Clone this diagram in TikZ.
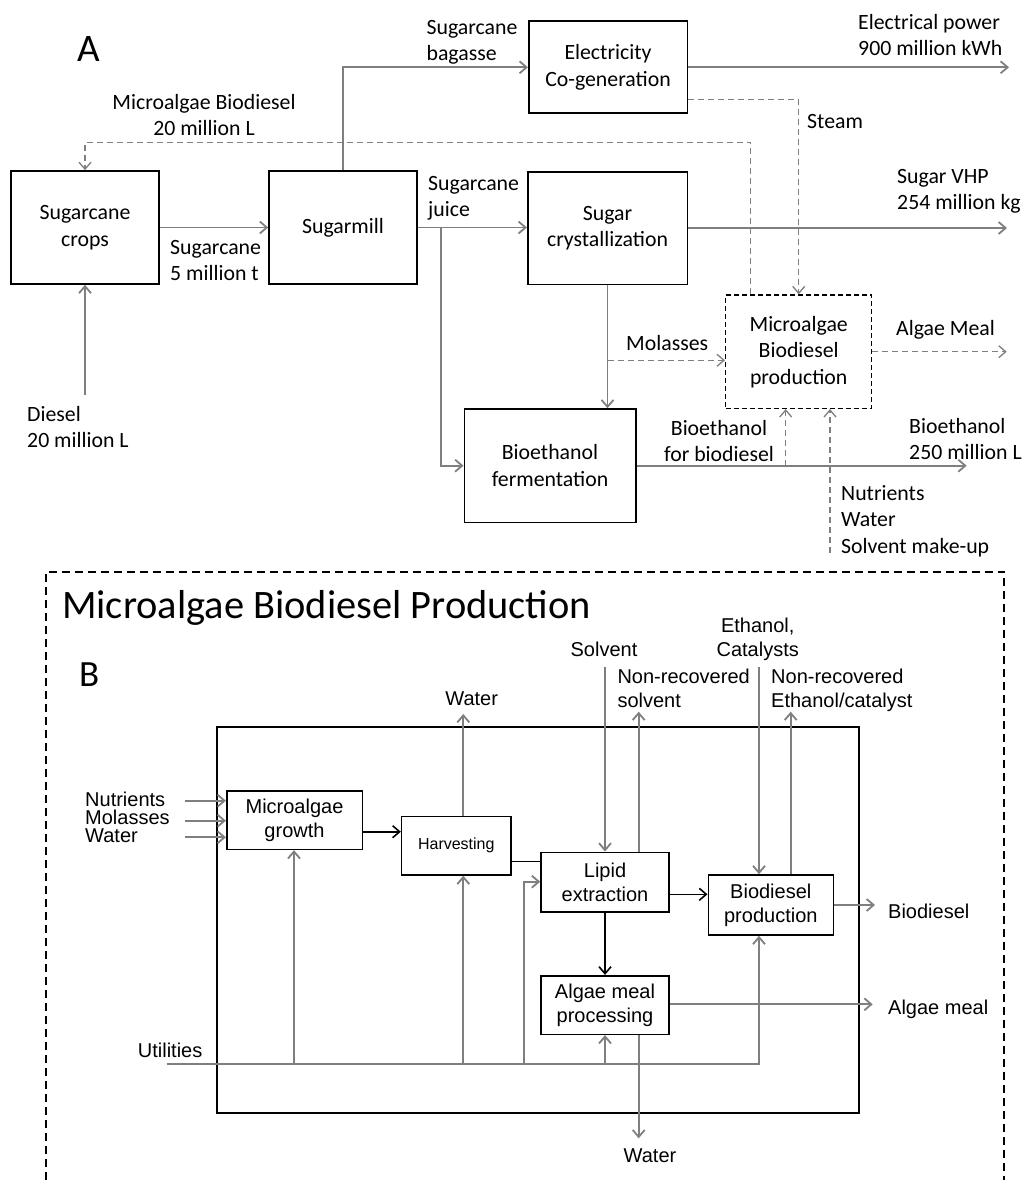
\documentclass[tikz,border=0pt]{standalone}
\usepackage{fontspec}
\setmainfont{Carlito}
\newfontfamily\arialf{Liberation Sans}
\usetikzlibrary{arrows.meta}
\definecolor{lgray}{HTML}{7F7F7F}
\begin{document}
\begin{tikzpicture}[x=1pt,y=-1pt,
  fA/.style={font=\fontsize{21.8}{26.5}\selectfont},
  fB/.style={font=\arialf\fontsize{20}{24}\selectfont},
  boxA/.style={draw=black, line width=1.6pt, inner sep=0pt, align=center, fA},
  boxB/.style={draw=black, line width=1.6pt, inner sep=0pt, align=center, fB},
  lbl/.style={inner sep=0pt, align=left},
  tip/.style={-{Straight Barb[length=7pt,width=12pt]}},
  gline/.style={draw=lgray, line width=1.8pt},
  garrow/.style={gline, tip},
  dgarrow/.style={draw=lgray, line width=1.3pt, dash pattern=on 6pt off 4pt, tip},
  barrow/.style={draw=black, line width=1.6pt, tip},
]
\useasboundingbox[fill=white] (0,0) rectangle (1031,1180);

% ---------------- Part A ----------------
\node[inner sep=0pt, anchor=base west, font=\fontsize{39}{40}\selectfont] (labA) at (77,62) {A};

\node[boxA, minimum width=148pt, minimum height=113pt] (crops) at (85,227.5) {Sugarcane\\crops};
\node[boxA, minimum width=148pt, minimum height=113pt] (mill) at (343,227.5) {Sugarmill};
\node[boxA, minimum width=158.6pt, minimum height=92pt] (cogen) at (608,67.3) {Electricity\\Co-generation};
\node[boxA, minimum width=159.6pt, minimum height=112.6pt] (cryst) at (607.5,228) {Sugar\\crystallization};
\node[boxA, draw=black, line width=1.4pt, dash pattern=on 5pt off 3pt, minimum width=146pt, minimum height=113.3pt] (mbp) at (798.7,351.7) {Microalgae\\Biodiesel\\production};
\node[boxA, minimum width=171.4pt, minimum height=113.3pt] (ferm) at (550,465.7) {Bioethanol\\fermentation};

% free ends
\coordinate (dsl) at (85,395);
\coordinate (elec) at (1009,67.3);
\coordinate (vhp) at (1007,228);
\coordinate (ameal) at (1006.7,351.7);
\coordinate (etoh) at (966.7,465.7);
\coordinate (juicej) at (441,227.5);
\coordinate (molj) at (607.5,360.3);
\coordinate (bfbj) at (785.7,465.7);
\coordinate (nutr) at (830,553);

\draw[garrow] (crops.east) -- (mill.west);
\draw[garrow] (mill.north) |- (cogen.west);
\draw[garrow] (mill.east) -- (mill.east -| cryst.west);
\draw[garrow] (juicej) |- (ferm.west);
\draw[garrow] (dsl) -- (crops.south);
\draw[garrow] (cogen.east) -- (elec);
\draw[garrow] (cryst.east) -- (vhp);
\draw[garrow] (cryst.south) -- (cryst.south |- ferm.north);
\draw[garrow] (ferm.east) -- (etoh);
\draw[dgarrow] (cogen.east |- 0,99.3) -| (mbp.north);
\draw[dgarrow] (mbp.north -| 750.7,0) |- (crops.north |- 0,142.3) -- (crops.north);
\draw[dgarrow] (molj) -- (molj -| mbp.west);
\draw[dgarrow] (mbp.east) -- (ameal);
\draw[dgarrow] (bfbj) -- (bfbj |- mbp.south);
\draw[dgarrow] (nutr) -- (nutr |- mbp.south);

\node[lbl, fA, anchor=north] (lbagasse) at (472,20) {Sugarcane\\bagasse};
\node[lbl, fA, anchor=north west] (lcane) at (170,240) {Sugarcane\\5 million t};
\node[lbl, fA, anchor=north west] (ljuice) at (428,176) {Sugarcane\\juice};
\node[lbl, fA, anchor=north west] (ldiesel) at (27,406) {Diesel\\20 million L};
\node[lbl, fA, align=center, anchor=north] (lmbd) at (204,94) {Microalgae Biodiesel\\20 million L};
\node[lbl, fA, anchor=north west] (lelec) at (858,14) {Electrical power\\900 million kWh};
\node[lbl, fA, anchor=north west] (lsteam) at (807,114) {Steam};
\node[lbl, fA, anchor=north west] (lvhp) at (897,169) {Sugar VHP\\254 million kg};
\node[lbl, fA, anchor=north west] (lmol) at (626,335) {Molasses};
\node[lbl, fA, anchor=north west] (lameal) at (896,320) {Algae Meal};
\node[lbl, fA, anchor=north west] (letoh) at (909,418) {Bioethanol\\250 million L};
\node[lbl, fA, align=center, anchor=north] (lbfb) at (719,420) {Bioethanol\\for biodiesel};
\node[lbl, fA, anchor=north west] (lnutr) at (841,485) {Nutrients\\Water\\Solvent make-up};

% ---------------- Part B ----------------
\draw[black, line width=2pt, dash pattern=on 8pt off 5pt] (46,1180) -- (46,571.7) -- (1004,571.7) -- (1004,1180);
\node[inner sep=0pt, anchor=base west, font=\fontsize{40.4}{42}\selectfont] (title) at (62,618) {Microalgae Biodiesel Production};
\node[inner sep=0pt, anchor=base west, font=\fontsize{37}{40}\selectfont] (labB) at (79,686) {B};

\draw[black, line width=1.6pt] (217,727) rectangle (859,1113);

\node[boxB, minimum width=135.6pt, minimum height=58.3pt] (growth) at (294.5,820.2) {Microalgae\\growth};
\node[boxB, font=\arialf\fontsize{16}{20}\selectfont, minimum width=109.3pt, minimum height=58.3pt] (harv) at (456.3,845.8) {Harvesting};
\node[boxB, minimum width=128pt, minimum height=59.4pt] (lipid) at (605,882) {Lipid\\extraction};
\node[boxB, minimum width=125pt, minimum height=60pt] (biod) at (770.8,905) {Biodiesel\\production};
\node[boxB, minimum width=128pt, minimum height=58.6pt] (meal) at (605,1005) {Algae meal\\processing};

% free ends
\coordinate (inN) at (185,800.7);
\coordinate (inM) at (185,820.7);
\coordinate (inW) at (185,837.3);
\coordinate (wtop) at (463.3,714);
\coordinate (util) at (166.7,1063.7);
\coordinate (uend) at (759,1063.7);
\coordinate (u1) at (294,1063.7);
\coordinate (u2) at (463.3,1063.7);
\coordinate (u3) at (524,1063.7);
\coordinate (u4) at (605,1063.7);
\coordinate (solv) at (605,667.3);
\coordinate (nrs) at (638.7,711.7);
\coordinate (ethc) at (759,667);
\coordinate (nre) at (790.7,711.7);
\coordinate (bdo) at (875,905);
\coordinate (amo) at (872.7,1004.3);
\coordinate (wbot) at (638.7,1138.3);

\draw[barrow] (growth.east |- 0,831.7) -- (harv.west |- 0,831.7);
\draw[black, line width=1.6pt] (harv.east |- 0,861.5) -- (lipid.west |- 0,861.5);
\draw[barrow] (lipid.east |- 0,894.3) -- (biod.west |- 0,894.3);
\draw[barrow] (lipid.south) -- (meal.north);

\draw[garrow] (inN) -- (inN -| growth.west);
\draw[garrow] (inM) -- (inM -| growth.west);
\draw[garrow] (inW) -- (inW -| growth.west);
\draw[garrow] (wtop |- harv.north) -- (wtop);
\draw[garrow] (util) -- (uend) -- (uend |- biod.south);
\draw[garrow] (u1) -- (u1 |- growth.south);
\draw[garrow] (u2) -- (u2 |- harv.south);
\draw[garrow] (u3) |- (lipid.west |- 0,881.7);
\draw[garrow] (u4) -- (meal.south);
\draw[garrow] (solv) -- (lipid.north);
\draw[garrow] (nrs |- lipid.north) -- (nrs);
\draw[garrow] (ethc) -- (ethc |- biod.north);
\draw[garrow] (nre |- biod.north) -- (nre);
\draw[garrow] (biod.east) -- (bdo);
\draw[garrow] (meal.east |- amo) -- (amo);
\draw[garrow] (wbot |- meal.south) -- (wbot);

\node[lbl, fB, font=\arialf\fontsize{20}{18}\selectfont, anchor=north west] (lin) at (85,792) {Nutrients\\Molasses\\Water};
\node[lbl, fB, anchor=north] (lwtop) at (471.7,691.7) {Water};
\node[lbl, fB, anchor=north] (lsolv) at (604,642) {Solvent};
\node[lbl, fB, anchor=north west] (lnrs) at (617.3,668.5) {Non-recovered\\solvent};
\node[lbl, fB, align=center, anchor=north] (lethc) at (757.7,617.5) {Ethanol,\\Catalysts};
\node[lbl, fB, anchor=north west] (lnre) at (771,668.5) {Non-recovered\\Ethanol/catalyst};
\node[lbl, fB, anchor=north west] (lbdo) at (888,903.5) {Biodiesel};
\node[lbl, fB, anchor=north west] (lamo) at (888,1000) {Algae meal};
\node[lbl, fB, anchor=north] (lwbot) at (650,1149) {Water};
\node[lbl, fB, anchor=north west] (lutil) at (137.7,1043) {Utilities};
\end{tikzpicture}
\end{document}
